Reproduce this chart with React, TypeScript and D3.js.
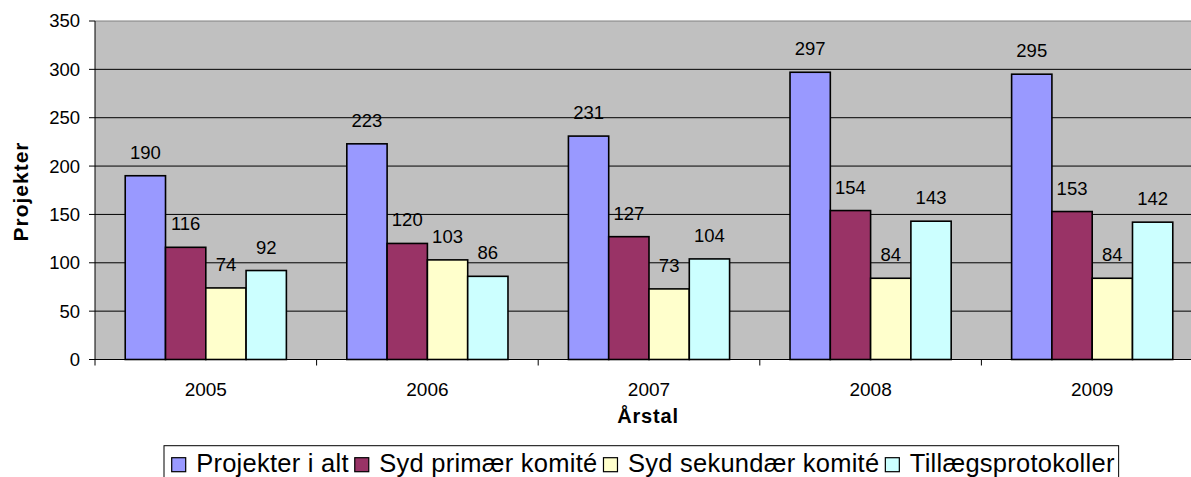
import React, { useEffect, useRef } from "react";
import * as d3 from "d3";

const years = ["2005", "2006", "2007", "2008", "2009"];
const seriesNames = ["Projekter i alt", "Syd primær komité", "Syd sekundær komité", "Tillægsprotokoller"];
const projekterIAlt = [190, 223, 231, 297, 295];
const sydPrimaer = [116, 120, 127, 154, 153];
const sydSekundaer = [74, 103, 73, 84, 84];
const tillaeg = [92, 86, 104, 143, 142];
const seriesColors = ["#9999FF", "#993366", "#FFFFCC", "#CCFFFF"];
const yTicks = [0, 50, 100, 150, 200, 250, 300, 350];

const W = 1191;
const H = 477;
const FONT = "'Liberation Sans', Arial, sans-serif";

export default function App() {
  const legendRef = useRef<SVGGElement>(null);
  const legendBoxRef = useRef<SVGRectElement>(null);

  const left = 95;
  const top = 21;
  const bottom = 359.5;
  const right = 95 + 5 * 221.6;

  const y = d3.scaleLinear().domain([0, 350]).range([bottom, top]);
  const x0 = d3.scaleBand().domain(years).range([left, right]).paddingInner(0).paddingOuter(0);
  const x1 = d3.scaleBand().domain(seriesNames).range([0, x0.bandwidth()]).paddingInner(0).paddingOuter(0.75);
  const allSeries = [projekterIAlt, sydPrimaer, sydSekundaer, tillaeg];

  useEffect(() => {
    const g = d3.select(legendRef.current);
    if (!g.node()) return;
    let cx = 171.7;
    let end = cx;
    g.selectAll("g.item").each(function () {
      const item = d3.select(this as SVGGElement);
      item.select("rect").attr("x", cx);
      const t = item.select("text");
      t.attr("x", cx + 24.5);
      const w = (t.node() as SVGTextElement).getComputedTextLength();
      end = cx + 24.5 + w;
      cx = end + 6;
    });
    d3.select(legendBoxRef.current).attr("width", end + 4 - 164);
  }, []);

  const boundaries = years.map((yr) => x0(yr)!).concat([right]);

  return (
    <svg
      width={W}
      height={H}
      style={{ position: "fixed", left: 0, top: 0, background: "#fff" }}
      fontFamily={FONT}
    >
      <rect x={0} y={0} width={W} height={H} fill="#fff" />
      {/* plot area */}
      <rect x={left} y={top} width={right - left} height={bottom - top} fill="#C0C0C0" />
      <line x1={left} x2={right} y1={top} y2={top} stroke="#808080" strokeWidth={1} />
      {yTicks.slice(1, -1).map((t) => (
        <line key={t} x1={left} x2={right} y1={y(t)} y2={y(t)} stroke="#000" strokeWidth={1} />
      ))}
      {/* bars */}
      {years.map((yr, i) => (
        <g key={yr}>
          {allSeries.map((s, j) => (
            <rect
              key={j}
              x={x0(yr)! + x1(seriesNames[j])!}
              y={y(s[i])}
              width={x1.bandwidth()}
              height={bottom - y(s[i])}
              fill={seriesColors[j]}
              stroke="#000"
              strokeWidth={1.6}
            />
          ))}
          {allSeries.map((s, j) => (
            <text
              key={"l" + j}
              x={x0(yr)! + x1(seriesNames[j])! + x1.bandwidth() / 2}
              y={y(s[i]) - 17}
              textAnchor="middle"
              fontSize={18.5}
              fill="#000"
            >
              {s[i]}
            </text>
          ))}
        </g>
      ))}
      {/* axes */}
      <line x1={left} x2={left} y1={top} y2={bottom} stroke="#000" strokeWidth={1} />
      <line x1={left} x2={right} y1={bottom} y2={bottom} stroke="#000" strokeWidth={1} />
      {yTicks.map((t) => (
        <g key={t}>
          <line x1={left - 6} x2={left} y1={y(t)} y2={y(t)} stroke="#000" strokeWidth={1} />
          <text x={80} y={y(t)} dy="0.35em" textAnchor="end" fontSize={18.5} fill="#000">
            {t}
          </text>
        </g>
      ))}
      {boundaries.map((b, i) => (
        <line key={i} x1={b} x2={b} y1={bottom} y2={bottom + 6} stroke="#000" strokeWidth={1} />
      ))}
      {years.map((yr) => (
        <text key={yr} x={x0(yr)! + x0.bandwidth() / 2} y={396} textAnchor="middle" fontSize={19} fill="#000">
          {yr}
        </text>
      ))}
      {/* axis titles */}
      <text
        x={648}
        y={423}
        textAnchor="middle"
        fontSize={20}
        fontWeight="bold"
        letterSpacing={0.8}
        fill="#000"
      >
        Årstal
      </text>
      <text
        transform={`translate(28,191.5) rotate(-90)`}
        textAnchor="middle"
        fontSize={21}
        fontWeight="bold"
        letterSpacing={1}
        fill="#000"
      >
        Projekter
      </text>
      {/* legend */}
      <rect ref={legendBoxRef} x={164} y={445.7} width={1109.3 - 164} height={40} fill="#fff" stroke="#000" strokeWidth={1} />
      <g ref={legendRef}>
        {seriesNames.map((n, j) => (
          <g className="item" key={n}>
            <rect x={0} y={457.7} width={14} height={14} fill={seriesColors[j]} stroke="#000" strokeWidth={1.2} />
            <text x={0} y={472.3} fontSize={25.5} letterSpacing={0.25} fill="#000">
              {n}
            </text>
          </g>
        ))}
      </g>
    </svg>
  );
}
